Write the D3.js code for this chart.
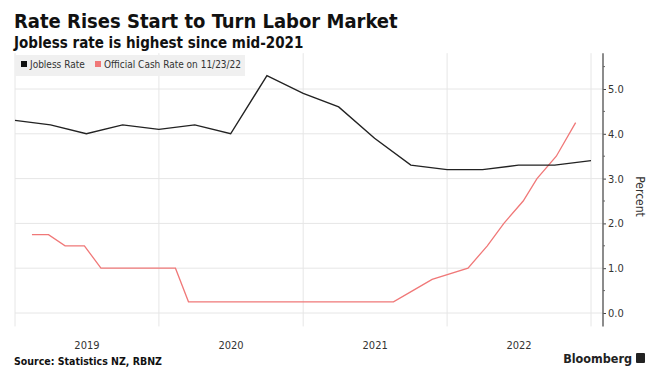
<!DOCTYPE html>
<html>
<head>
<meta charset="utf-8">
<script src="https://cdn.jsdelivr.net/npm/d3@7"></script>
<style>
  body { margin: 0; background: #fff; }
  svg { display: block; }
  .title { font-family: "DejaVu Sans Condensed", "DejaVu Sans", sans-serif; font-weight: bold; fill: #111; }
  .small { font-family: "DejaVu Sans Condensed", "DejaVu Sans", sans-serif; fill: #333; }
</style>
</head>
<body>
<div class="chart"></div>
<script>
// jobless rate, quarterly
const joblessDates = ["2019-01-01", "2019-04-01", "2019-07-01", "2019-10-01", "2020-01-01", "2020-04-01",
  "2020-07-01", "2020-10-01", "2021-01-01", "2021-04-01", "2021-07-01", "2021-10-01", "2022-01-01",
  "2022-04-01", "2022-07-01", "2022-10-01", "2023-01-01"];
const joblessValues = [4.3, 4.2, 4.0, 4.2, 4.1, 4.2, 4.0, 5.3, 4.9, 4.6, 3.9, 3.3, 3.2, 3.2, 3.3, 3.3, 3.4];

// official cash rate, at each decision date
const ocrDates = ["2019-02-13", "2019-03-27", "2019-05-08", "2019-06-26", "2019-08-07", "2019-09-25",
  "2019-11-13", "2020-02-12", "2020-03-16", "2020-05-13", "2020-06-24", "2020-08-12", "2020-09-23",
  "2020-11-11", "2021-02-24", "2021-04-14", "2021-05-26", "2021-07-14", "2021-08-18", "2021-10-06",
  "2021-11-24", "2022-02-23", "2022-04-13", "2022-05-25", "2022-07-13", "2022-08-17", "2022-10-05",
  "2022-11-23"];
const ocrValues = [1.75, 1.75, 1.5, 1.5, 1.0, 1.0, 1.0, 1.0, 0.25, 0.25, 0.25, 0.25, 0.25, 0.25, 0.25,
  0.25, 0.25, 0.25, 0.25, 0.5, 0.75, 1.0, 1.5, 2.0, 2.5, 3.0, 3.5, 4.25];

const yearTicks = ["2019", "2020", "2021", "2022"];
const yTicks = [0, 1, 2, 3, 4, 5];

const parseDate = d3.timeParse("%Y-%m-%d");
const jobless = joblessDates.map((d, i) => ({ date: parseDate(d), value: joblessValues[i] }));
const ocr = ocrDates.map((d, i) => ({ date: parseDate(d), value: ocrValues[i] }));

const svg_width = 662;
const svg_height = 376;
const svg = d3.select('.chart').append('svg')
  .attr('width', svg_width).attr('height', svg_height);

const X_scale = d3.scaleTime()
  .domain([parseDate("2019-01-01"), parseDate("2023-01-01")])
  .range([15, 591]);
const Y_scale = d3.scaleLinear().domain([0, 5]).range([313, 89]);
const plotTop = Y_scale(5.8);
const plotBottom = Y_scale(-0.3);
const axisX = 603;

// header
svg.append('text').attr('class', 'title').attr('x', 14).attr('y', 28)
  .style('font-size', '20px').text('Rate Rises Start to Turn Labor Market');
svg.append('text').attr('class', 'title').attr('x', 14).attr('y', 47.5)
  .style('font-size', '15px').text('Jobless rate is highest since mid-2021');

// grid
const grid = svg.append('g').attr('class', 'grid');
grid.selectAll('.hgrid').data(yTicks).join('line').attr('class', 'hgrid')
  .attr('x1', 15).attr('x2', axisX)
  .attr('y1', d => Y_scale(d)).attr('y2', d => Y_scale(d))
  .attr('stroke', '#e6e6e6').attr('stroke-width', 1);
const yearBounds = d3.timeYear.range(parseDate("2019-01-01"), parseDate("2023-01-02"));
grid.selectAll('.vgrid').data(yearBounds).join('line').attr('class', 'vgrid')
  .attr('x1', d => X_scale(d)).attr('x2', d => X_scale(d))
  .attr('y1', plotTop).attr('y2', plotBottom)
  .attr('stroke', '#e6e6e6').attr('stroke-width', 1);

// legend
const legend = svg.append('g').attr('class', 'legend');
legend.append('rect').attr('x', 15).attr('y', 55).attr('width', 230).attr('height', 21).attr('fill', '#f0f0f0');
const legendItems = [
  { name: 'Jobless Rate', color: '#111', x: 21 },
  { name: 'Official Cash Rate on 11/23/22', color: '#f07878', x: 95 }
];
legendItems.forEach(d => {
  legend.append('rect').attr('x', d.x).attr('y', 61).attr('width', 6).attr('height', 6).attr('fill', d.color);
  legend.append('text').attr('class', 'small').attr('x', d.x + 9).attr('y', 68)
    .style('font-size', '10px').text(d.name);
});

// lines
const line = d3.line().x(d => X_scale(d.date)).y(d => Y_scale(d.value));
svg.append('path').datum(ocr).attr('d', line)
  .attr('fill', 'none').attr('stroke', '#f07878').attr('stroke-width', 1.3);
svg.append('path').datum(jobless).attr('d', line)
  .attr('fill', 'none').attr('stroke', '#222').attr('stroke-width', 1.4);

// right axis
const yAxis = d3.axisRight(Y_scale).tickValues(yTicks).tickFormat(d3.format('.1f'))
  .tickSizeInner(3).tickSizeOuter(0).tickPadding(2);
const yAxisDraw = svg.append('g').attr('transform', `translate(${axisX},0)`).call(yAxis);
yAxisDraw.select('.domain').remove();
yAxisDraw.selectAll('text').attr('class', 'small').style('font-size', '11px').attr('font-family', null);
yAxisDraw.selectAll('line').attr('stroke', '#444');
yAxisDraw.append('g').selectAll('line').data(d3.range(0.5, 6, 1)).join('line')
  .attr('x1', 0).attr('x2', 2).attr('y1', d => Y_scale(d)).attr('y2', d => Y_scale(d))
  .attr('stroke', '#666');
yAxisDraw.append('line').attr('x1', 0).attr('x2', 0).attr('y1', plotTop).attr('y2', plotBottom)
  .attr('stroke', '#666').attr('stroke-width', 1.5);
svg.append('text').attr('class', 'small')
  .attr('transform', `translate(636,${Y_scale(2.6)}) rotate(90)`)
  .attr('text-anchor', 'middle').style('font-size', '12px').text('Percent');

// year labels centered in each year
svg.append('g').selectAll('text').data(yearTicks).join('text').attr('class', 'small')
  .attr('x', d => (X_scale(parseDate(d + "-01-01")) + X_scale(parseDate((+d + 1) + "-01-01"))) / 2)
  .attr('y', 349).attr('text-anchor', 'middle').style('font-size', '11px').text(d => d);

// footer
svg.append('text').attr('class', 'title').attr('x', 14).attr('y', 365)
  .style('font-size', '10.5px').text('Source: Statistics NZ, RBNZ');
svg.append('text').attr('class', 'title').attr('x', 632).attr('y', 363).attr('text-anchor', 'end')
  .style('font-size', '12.5px').style('fill', '#222').text('Bloomberg');
svg.append('rect').attr('x', 636).attr('y', 353).attr('width', 9).attr('height', 10)
  .attr('rx', 1).attr('fill', '#222');
</script>
</body>
</html>
